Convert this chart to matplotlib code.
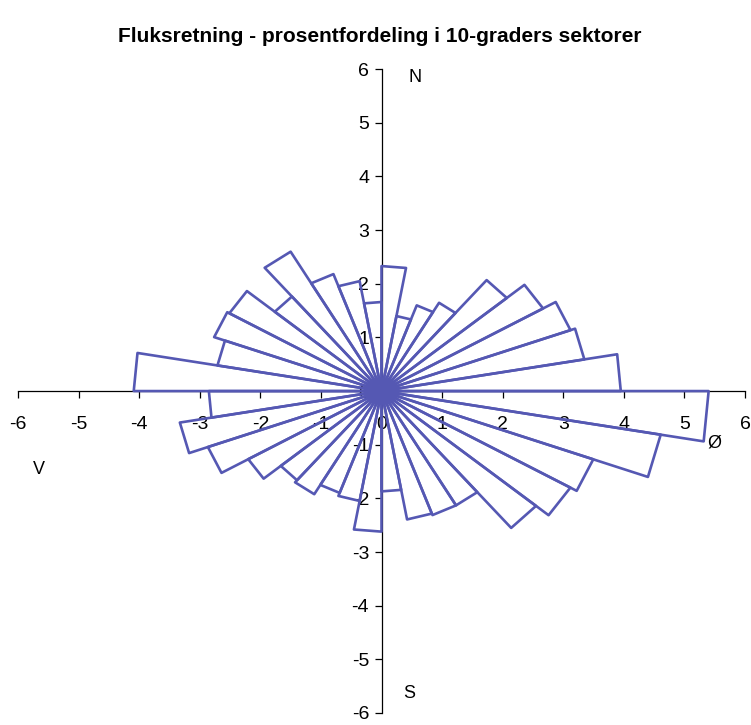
import numpy as np
import matplotlib.pyplot as plt

plt.rcParams['font.family'] = ['Liberation Sans', 'DejaVu Sans']
plt.rcParams['axes.unicode_minus'] = False

# Sektorer (startvinkel i grader fra nord, med klokka) og prosentandel per sektor
sektor_start = [0, 10, 20, 30, 40, 50, 60, 70, 80,
                90, 100, 110, 120, 130, 140, 150, 160, 170,
                180, 190, 200, 210, 220, 230, 240, 250, 260,
                270, 280, 290, 300, 310, 320, 330, 340, 350]
prosent = [2.33, 1.42, 1.70, 1.90, 2.70, 3.08, 3.32, 3.40, 3.95,
           5.40, 4.68, 3.72, 3.60, 3.33, 2.46, 2.46, 2.43, 1.87,
           2.62, 2.08, 2.02, 2.22, 2.17, 2.54, 3.05, 3.38, 2.85,
           4.09, 2.75, 2.94, 2.90, 2.30, 3.00, 2.32, 2.08, 1.66]
sektor_bredde = 10

ticks = [-6, -5, -4, -3, -2, -1, 0, 1, 2, 3, 4, 5, 6]
retninger = ['N', 'Ø', 'S', 'V']
retning_pos = [(0.55, 5.84), (5.5, -0.97), (0.45, -5.63), (-5.66, -1.46)]

fig = plt.figure(figsize=(7.51, 7.25), dpi=100)
ax = fig.add_axes([0.024, 0.0166, 0.968, 0.888])

farge = '#5558b3'
for start, r in zip(sektor_start, prosent):
    a = np.radians([start, start + sektor_bredde])
    xs = [0, r * np.sin(a[0]), r * np.sin(a[1]), 0]
    ys = [0, r * np.cos(a[0]), r * np.cos(a[1]), 0]
    ax.plot(xs, ys, color=farge, lw=1.9, zorder=3)

ax.set_xlim(-6, 6)
ax.set_ylim(-6, 6)
ax.set_xticks(ticks)
ax.set_yticks(ticks)

ax.spines['left'].set_position('zero')
ax.spines['bottom'].set_position('zero')
ax.spines['right'].set_visible(False)
ax.spines['top'].set_visible(False)
for s in ['left', 'bottom']:
    ax.spines[s].set_linewidth(0.9)

ax.tick_params(direction='out', length=5, width=0.9, labelsize=14)
ax.tick_params(axis='x', pad=13)
ax.tick_params(axis='y', pad=4)
ax.patch.set_visible(False)

for txt, (x, y) in zip(retninger, retning_pos):
    ax.text(x, y, txt, fontsize=13, ha='center', va='center')

fig.text(0.505, 0.950, 'Fluksretning - prosentfordeling i 10-graders sektorer',
         ha='center', va='center', fontsize=15, fontweight='bold')

fig.savefig('out.png', dpi=100)
